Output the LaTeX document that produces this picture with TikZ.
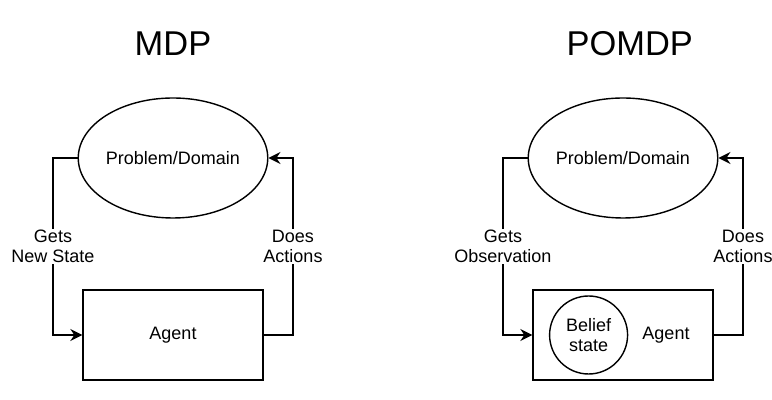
\documentclass[tikz,border=0pt]{standalone}
\usepackage{fontspec}
\setmainfont{Liberation Sans}
\usetikzlibrary{positioning,shapes,arrows.meta}
\tikzstyle{dom}=[draw, ellipse, minimum width=4.5cm, minimum height=3cm, inner sep=0pt, line width=1pt]
\tikzstyle{agt}=[draw, rectangle, minimum width=4.5cm, minimum height=2.25cm, line width=1pt]
\tikzstyle{bel}=[draw, circle, minimum size=1.95cm, inner sep=0pt, align=center, line width=1pt]
\tikzstyle{lbl}=[fill=white, align=center, inner sep=1pt]
\tikzstyle{flow}=[-{Stealth[length=0.3cm,width=0.3cm,inset=0.1cm]}, line width=1pt]
\tikzstyle{ttl}=[font=\fontsize{24.5}{29}\selectfont]
\begin{document}
\begin{tikzpicture}[node distance=2cm, font=\fontsize{12.8}{14.2}\selectfont]
\useasboundingbox (-4.325,-6.05) rectangle (14.975,3.95);

% MDP
\node[dom] at (0,0) (prob) {Problem/Domain};
\node[agt, below of = prob, node distance = 4.425cm] (agent) {Agent};
\node[ttl, above of = prob, node distance = 2.86cm] (mdp) {MDP};

\coordinate[left of = prob, node distance = 3cm] (lturn);
\coordinate[right of = agent, node distance = 3cm] (rturn);

\draw[flow] (prob.west) -- (lturn) |- node[lbl, pos=0.25] {Gets\\New State} (agent.west);
\draw[flow] (agent.east) -- (rturn) |- node[lbl, pos=0.25] {Does\\Actions} (prob.east);

% POMDP
\node[dom, right of = prob, node distance = 11.25cm] (prob2) {Problem/Domain};
\node[agt, below of = prob2, node distance = 4.425cm] (agent2) {};
\node[bel, left of = agent2, node distance = 0.86cm] (belief) {Belief\\state};
\node[right of = agent2, node distance = 1.075cm] (agentlbl) {Agent};
\node[ttl, above of = prob2, node distance = 2.86cm, xshift = 0.17cm] (pomdp) {POMDP};

\coordinate[left of = prob2, node distance = 3cm] (lturn2);
\coordinate[right of = agent2, node distance = 3cm] (rturn2);

\draw[flow] (prob2.west) -- (lturn2) |- node[lbl, pos=0.25] {Gets\\Observation} (agent2.west);
\draw[flow] (agent2.east) -- (rturn2) |- node[lbl, pos=0.25] {Does\\Actions} (prob2.east);
\end{tikzpicture}
\end{document}
